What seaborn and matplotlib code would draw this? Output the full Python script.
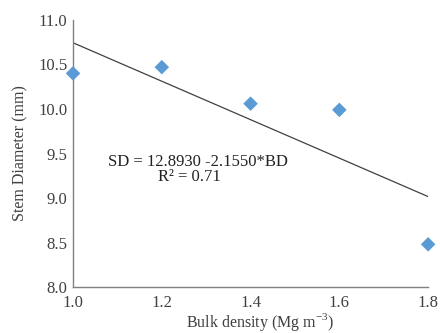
import matplotlib
matplotlib.use("Agg")
import matplotlib.pyplot as plt
import seaborn as sns
import pandas as pd

bulk_density = [1.0, 1.2, 1.4, 1.6, 1.8]
stem_diameter = [10.40, 10.47, 10.06, 9.99, 8.48]
x_ticks = [1.0, 1.2, 1.4, 1.6, 1.8]
y_ticks = [8.0, 8.5, 9.0, 9.5, 10.0, 10.5, 11.0]
equation_line = "SD = 12.8930 -2.1550*BD"
r2_line = "R\u00b2 = 0.71"

df = pd.DataFrame({"BD": bulk_density, "SD": stem_diameter})

sns.set_style("white")
plt.rcParams["font.family"] = ["Liberation Serif", "DejaVu Serif"]

fig = plt.figure(figsize=(4.4, 3.33), dpi=100)
ax = fig.add_axes([0.166, 0.138, 0.807, 0.802])

sns.regplot(data=df, x="BD", y="SD", scatter=False, ci=None, ax=ax,
            line_kws={"color": "#404040", "lw": 0.9})
sns.scatterplot(data=df, x="BD", y="SD", marker="D", s=55, color="#5B9BD5",
                edgecolor="none", ax=ax, zorder=3, clip_on=False)

ax.set_xlim(1.0, 1.8)
ax.set_ylim(8.0, 11.0)
ax.set_xticks(x_ticks)
ax.set_xticklabels([f"{v:.1f}" for v in x_ticks])
ax.set_yticks(y_ticks)
ax.set_yticklabels([f"{v:.1f}" for v in y_ticks])
ax.tick_params(axis="both", length=0, labelsize=12, colors="#404040")
ax.tick_params(axis="y", pad=4)
ax.tick_params(axis="x", pad=6)
ax.set_xlabel("Bulk density (Mg m$^{\\mathregular{-3}}$)", fontsize=11.5, color="#404040")
ax.set_ylabel("Stem Diameter (mm)", fontsize=11.5, color="#404040")
ax.xaxis.set_label_coords(0.527, -0.09)
ax.yaxis.set_label_coords(-0.125, 0.5)

for side in ["top", "right"]:
    ax.spines[side].set_visible(False)
for side in ["left", "bottom"]:
    ax.spines[side].set_color("#808080")
    ax.spines[side].set_linewidth(1.0)

ax.text(0.352, 0.468, equation_line, transform=ax.transAxes, ha="center", va="center",
        fontsize=12, color="#222222")
ax.text(0.327, 0.412, r2_line, transform=ax.transAxes, ha="center", va="center",
        fontsize=12, color="#222222")

fig.savefig("out.png", dpi=100)
